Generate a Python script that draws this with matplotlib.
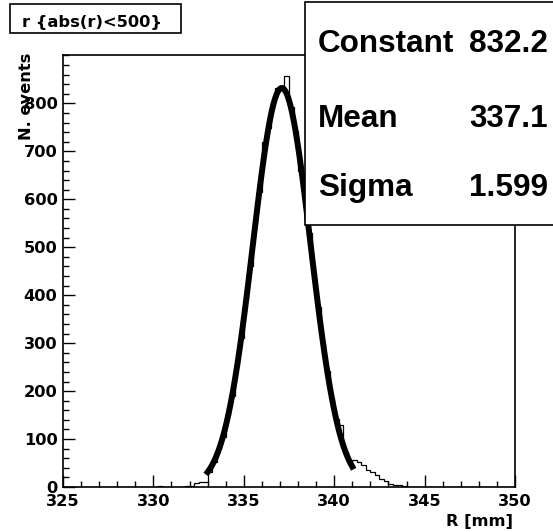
import numpy as np
import matplotlib
matplotlib.use("Agg")
import matplotlib.pyplot as plt
from matplotlib.patches import Rectangle
from matplotlib.ticker import MultipleLocator, FixedLocator

# histogram of R, 100 bins of 0.25 mm from 325 to 350
bin_lo = 325.0
bin_hi = 350.0
counts = [0] * 20 + [
    0, 2, 1, 0, 0, 1, 1, 3, 3, 8,           # 330.0 - 332.25
    10, 10, 31, 52, 80, 104, 151, 190, 255, 310,   # 332.5 - 334.75
    392, 460, 548, 615, 720, 748, 800, 833, 836, 858,  # 335.0 - 337.25
    792, 742, 660, 604, 530, 446, 376, 300, 241, 186,  # 337.5 - 339.75
    142, 130, 74, 53, 56, 52, 46, 36, 32, 25,          # 340.0 - 342.25
    16, 12, 6, 5, 4, 2, 1,                              # 342.5 - 344.0
] + [0] * 23

y_ticks = [0, 100, 200, 300, 400, 500, 600, 700, 800]

# gaussian fit results (from stats box)
fit_const = 832.2
fit_mean = 337.1
fit_sigma = 1.599
fit_range = (333.0, 341.0)

small = dict(family="DejaVu Sans", weight="bold", size=11.7)
big = dict(family="Liberation Sans", weight="bold", size=22.7)

W, H = 553, 532
fig = plt.figure(figsize=(W / 100, H / 100), dpi=100)
fig.patch.set_facecolor("white")

# axes box in pixels: x 63..515, y 55..487
ax = fig.add_axes([63 / W, 1 - 487 / H, (515 - 63) / W, (487 - 55) / H])

edges = np.linspace(bin_lo, bin_hi, len(counts) + 1)
ax.stairs(counts, edges, color="black", lw=0.9)

xf = np.linspace(fit_range[0], fit_range[1], 100)
yf = fit_const * np.exp(-0.5 * ((xf - fit_mean) / fit_sigma) ** 2)
ax.plot(xf, yf, color="black", lw=4.3)

ax.set_xlim(bin_lo, bin_hi)
ax.set_ylim(0, 1.05 * max(counts))

ax.xaxis.set_major_locator(MultipleLocator(5))
ax.xaxis.set_minor_locator(MultipleLocator(1))
ax.yaxis.set_major_locator(FixedLocator(y_ticks))
ax.yaxis.set_minor_locator(MultipleLocator(20))
ax.tick_params(which="both", direction="in", top=False, right=False, width=1.0, color="black")
ax.tick_params(which="major", length=8.5)
ax.tick_params(which="minor", length=4.5)
ax.tick_params(axis="x", pad=5)
ax.tick_params(axis="y", pad=4)
for lab in ax.get_xticklabels() + ax.get_yticklabels():
    lab.set_fontfamily("DejaVu Sans")
    lab.set_fontweight("bold")
    lab.set_fontsize(11.7)
for sp in ax.spines.values():
    sp.set_linewidth(1.2)

# axis titles (ROOT style, at the ends)
fig.text(27 / W, 1 - 53 / H, "N. events", rotation=90, ha="center", va="top", **small)
fig.text(513 / W, 1 - 526 / H, "R [mm]", ha="right", va="baseline", **small)

# title box
fig.add_artist(Rectangle((10 / W, 1 - 33 / H), 171 / W, 29 / H, transform=fig.transFigure,
                         facecolor="white", edgecolor="black", lw=1.2, zorder=5))
fig.text(22 / W, 1 - 27 / H, "r {abs(r)<500}", ha="left", va="baseline", zorder=6, **small)

# stats box
fig.add_artist(Rectangle((305 / W, 1 - 225 / H), 260 / W, 223 / H, transform=fig.transFigure,
                         facecolor="white", edgecolor="black", lw=1.2, zorder=5, clip_on=False))
rows = [("Constant", "%.1f" % fit_const, 52),
        ("Mean", "%.1f" % fit_mean, 127),
        ("Sigma", "%.3f" % fit_sigma, 196)]
for name, val, yb in rows:
    fig.text(318 / W, 1 - yb / H, name, ha="left", va="baseline", zorder=6, **big)
    fig.text(548 / W, 1 - yb / H, val, ha="right", va="baseline", zorder=6, **big)

fig.savefig("out.png", dpi=100)
